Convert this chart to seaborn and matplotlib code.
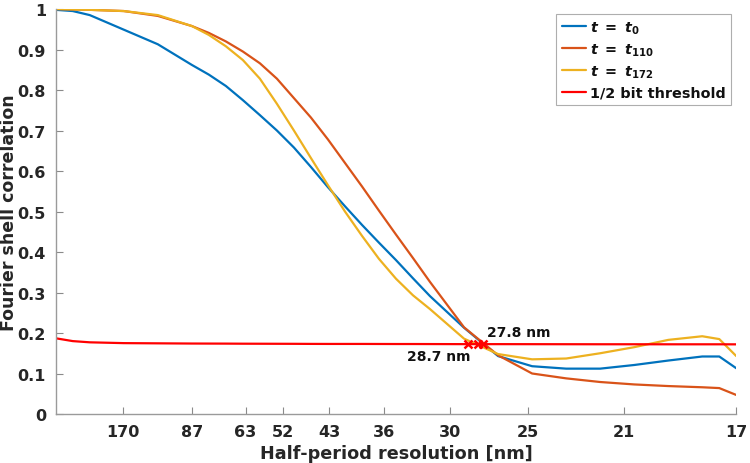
import numpy as np
import pandas as pd
import matplotlib
matplotlib.use("Agg")
import matplotlib.pyplot as plt
import seaborn as sns

# spatial frequency, as fraction of Nyquist (17 nm)
freq = [0.0, 0.025, 0.05, 0.10, 0.15, 0.20, 0.225, 0.25, 0.275, 0.30, 0.325, 0.35, 0.375,
        0.40, 0.425, 0.45, 0.475, 0.50, 0.525, 0.55, 0.60, 0.65, 0.70, 0.75, 0.80, 0.85,
        0.90, 0.95, 0.975, 1.0]

fsc_t0 = [0.998, 0.995, 0.985, 0.949, 0.913, 0.862, 0.838, 0.81, 0.775, 0.738, 0.70, 0.658,
          0.61, 0.56, 0.513, 0.467, 0.423, 0.38, 0.335, 0.291, 0.213, 0.143, 0.118, 0.112,
          0.112, 0.121, 0.132, 0.142, 0.142, 0.113]
fsc_t110 = [1.0, 0.999, 0.998, 0.995, 0.983, 0.958, 0.941, 0.92, 0.895, 0.866, 0.828, 0.78,
            0.732, 0.678, 0.62, 0.562, 0.502, 0.443, 0.385, 0.326, 0.214, 0.145, 0.10, 0.088,
            0.079, 0.073, 0.069, 0.066, 0.064, 0.047]
fsc_t172 = [1.0, 0.999, 0.998, 0.995, 0.985, 0.958, 0.936, 0.908, 0.874, 0.828, 0.766, 0.70,
            0.632, 0.565, 0.50, 0.44, 0.383, 0.334, 0.293, 0.259, 0.186, 0.148, 0.135, 0.137,
            0.15, 0.165, 0.183, 0.192, 0.185, 0.143]
half_bit = [0.187, 0.180, 0.177, 0.175, 0.1745, 0.174, 0.1739, 0.1738, 0.1736, 0.1735, 0.1734,
            0.1733, 0.1731, 0.173, 0.173, 0.173, 0.1729, 0.1728, 0.1728, 0.1727, 0.1725,
            0.1725, 0.1724, 0.1723, 0.1722, 0.1722, 0.1721, 0.1721, 0.1721, 0.172]

tick_pos = [0.0993, 0.1998, 0.2789, 0.3344, 0.4020, 0.4828, 0.5798, 0.6944, 0.8345, 1.0]
tick_labels = ["170", "87", "63", "52", "43", "36", "30", "25", "21", "17"]

cross_x = [0.606, 0.620, 0.628]
cross_y = [0.173, 0.173, 0.173]

colors = ["#0072BD", "#D95319", "#EDB120"]
labels = [r"$t\ =\ t_{0}$", r"$t\ =\ t_{110}$", r"$t\ =\ t_{172}$"]

sns.set_style("ticks")
plt.rcParams["font.family"] = ["DejaVu Sans"]
plt.rcParams["font.weight"] = "bold"
plt.rcParams["mathtext.fontset"] = "custom"
plt.rcParams["mathtext.rm"] = "DejaVu Sans:bold"
plt.rcParams["mathtext.it"] = "DejaVu Sans:italic:bold"
plt.rcParams["mathtext.bf"] = "DejaVu Sans:bold"

fig = plt.figure(figsize=(7.5, 4.64), dpi=100)
ax = fig.add_axes([0.0743, 0.1056, 0.9074, 0.8728])

series = [fsc_t0, fsc_t110, fsc_t172]
for vals, col, lab in zip(series, colors, labels):
    df = pd.DataFrame({"freq": freq, "fsc": vals})
    sns.lineplot(data=df, x="freq", y="fsc", color=col, lw=1.6, label=lab, ax=ax)

thr = pd.DataFrame({"freq": freq, "fsc": half_bit})
sns.lineplot(data=thr, x="freq", y="fsc", color="#FF0000", lw=1.6,
             label="1/2 bit threshold", ax=ax)

ax.plot(cross_x, cross_y, ls="none", marker="x", color="#FF0000", ms=6, mew=1.8)
ax.text(0.634, 0.202, "27.8 nm", fontsize=10, fontweight="bold", color="#111111",
        ha="left", va="center")
ax.text(0.609, 0.143, "28.7 nm", fontsize=10, fontweight="bold", color="#111111",
        ha="right", va="center")

ax.set_xlim(0, 1)
ax.set_ylim(0, 1)
ax.set_xticks(tick_pos)
ax.set_xticklabels(tick_labels)
ax.set_yticks(np.arange(0, 1.01, 0.1))
ax.set_yticklabels(["0", "0.1", "0.2", "0.3", "0.4", "0.5", "0.6", "0.7", "0.8", "0.9", "1"])
ax.tick_params(direction="in", length=5, width=0.8, color="#8a8a8a",
               labelsize=11.5, labelcolor="#262626", pad=7)
for lab in ax.get_xticklabels() + ax.get_yticklabels():
    lab.set_fontweight("bold")

sns.despine(ax=ax)
for s in ["left", "bottom"]:
    ax.spines[s].set_color("#9a9a9a")
    ax.spines[s].set_linewidth(1.0)

ax.set_xlabel("Half-period resolution [nm]", fontsize=12.7, fontweight="bold",
              color="#262626", labelpad=4)
ax.set_ylabel("Fourier shell correlation", fontsize=12.5, fontweight="bold",
              color="#262626", labelpad=2)
ax.yaxis.set_label_coords(-0.056, 0.5)

leg = ax.legend(loc="upper right", fontsize=10.4, frameon=True, fancybox=False,
                handlelength=1.7, handletextpad=0.3, borderpad=0.35,
                labelspacing=0.4, borderaxespad=0.35)
leg.get_frame().set_edgecolor("#9a9a9a")
leg.get_frame().set_linewidth(0.8)
for t in leg.get_texts():
    t.set_fontweight("bold")
    t.set_color("#111111")

fig.savefig("out.png", dpi=100)
